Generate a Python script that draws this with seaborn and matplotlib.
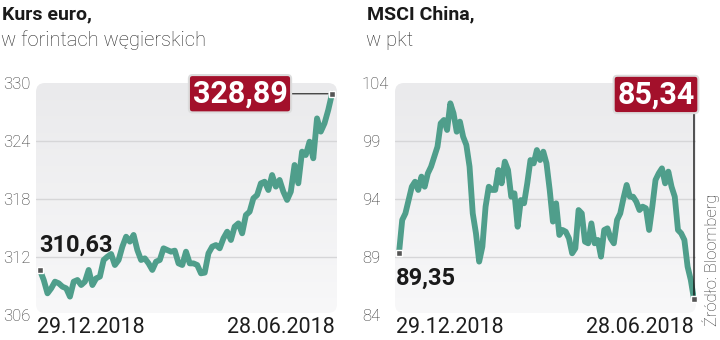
import numpy as np
import pandas as pd
import matplotlib
matplotlib.use("Agg")
import matplotlib.pyplot as plt
import seaborn as sns
from matplotlib.patches import FancyBboxPatch

# ---------------- data ----------------
eur_title = "Kurs euro,"
eur_subtitle = "w forintach węgierskich"
eur_values = [310.63, 309.62, 308.24, 308.76, 309.45, 309.28, 308.93, 308.76, 307.90, 309.45,
              309.62, 309.10, 309.45, 310.66, 309.10, 309.79, 309.97, 311.69, 312.03, 312.31,
              311.17, 311.69, 313.07, 314.10, 313.59, 314.28, 312.72, 311.69, 311.86, 311.34,
              310.66, 311.52, 311.69, 312.90, 312.72, 312.55, 312.66, 311.34, 311.17, 312.55,
              311.34, 311.34, 311.17, 310.31, 310.38, 312.38, 313.07, 313.24, 312.90, 313.93,
              314.62, 313.76, 315.14, 315.48, 314.45, 316.34, 316.69, 318.07, 318.41, 319.62,
              319.79, 318.93, 320.48, 319.28, 319.97, 318.76, 317.90, 318.76, 321.52, 319.62,
              322.90, 322.55, 323.93, 322.21, 326.34, 324.97, 325.83, 327.21, 328.89]
eur_ticks = [306, 312, 318, 324, 330]

msci_title = "MSCI China,"
msci_subtitle = "w pkt"
msci_values = [89.35, 92.19, 92.76, 93.91, 95.06, 95.49, 94.78, 95.93, 95.06, 96.21,
               96.79, 97.65, 98.51, 100.52, 100.81, 99.95, 102.25, 101.39, 99.80, 100.67,
               99.37, 98.66, 96.79, 92.76, 91.04, 88.60, 89.89, 93.34, 95.06, 94.78,
               94.78, 96.50, 95.35, 97.22, 96.50, 94.20, 94.49, 91.61, 93.91, 93.63,
               95.35, 97.36, 97.07, 98.22, 97.36, 98.08, 97.07, 94.78, 92.05, 93.63,
               90.90, 91.33, 91.18, 90.61, 89.32, 89.75, 93.05, 92.76, 90.32, 90.18,
               91.90, 90.18, 90.47, 89.03, 91.33, 91.47, 90.61, 90.18, 92.19, 92.76,
               94.06, 95.21, 94.20, 94.20, 93.77, 93.05, 93.34, 93.20, 91.33, 93.34,
               95.64, 96.21, 96.64, 95.35, 96.36, 95.06, 94.20, 91.33, 91.04, 90.47,
               88.17, 87.02, 85.34]
msci_ticks = [84, 89, 94, 99, 104]

date_labels = ["29.12.2018", "28.06.2018"]
source_text = "Źródło: Bloomberg"

# ---------------- style ----------------
sns.set_style("white")
plt.rcParams["font.family"] = ["Roboto", "DejaVu Sans"]

LINE = "#4f9e8b"
RED = "#a3102b"
W, H = 720, 340

fig = plt.figure(figsize=(7.2, 3.4), dpi=100)
fig.patch.set_facecolor("white")


def fmt(v):
    return f"{v:.2f}".replace(".", ",")


def panel(px_left, px_right, data_l, data_r, values, ticks, title, subtitle,
          title_x, box_mode):
    top, bottom = 83, 315
    ax = fig.add_axes([px_left / W, 1 - bottom / H, (px_right - px_left) / W,
                       (bottom - top) / H])
    ax.set_facecolor("none")
    for s in ax.spines.values():
        s.set_visible(False)
    n = len(values)
    span = n - 1
    dw = data_r - data_l
    xl = -(data_l - px_left) / dw * span
    xr = span + (px_right - data_r) / dw * span

    # background rounded box with vertical gradient
    wpx, hpx = px_right - px_left, bottom - 2 - top
    box = FancyBboxPatch((0, 2 / (bottom - top)), 1, hpx / (bottom - top),
                         boxstyle=f"round,pad=0,rounding_size={9 / wpx}",
                         mutation_aspect=wpx / (bottom - top), transform=ax.transAxes,
                         facecolor="none", edgecolor="none")
    ax.add_patch(box)
    grad = np.linspace(0, 1, 256).reshape(-1, 1)
    cmap = matplotlib.colors.LinearSegmentedColormap.from_list("bg", ["#f8f8f9", "#eaeaec"])
    im = ax.imshow(grad, extent=(0, 1, 1, 0), transform=ax.transAxes, aspect="auto",
                   cmap=cmap, zorder=0)
    im.set_clip_path(box)

    df = pd.DataFrame({"t": np.arange(n), "v": values})
    sns.lineplot(data=df, x="t", y="v", ax=ax, color=LINE, linewidth=4.2,
                 solid_joinstyle="round", solid_capstyle="round", zorder=3)
    ax.set_xlim(xl, xr)
    ax.set_ylim(ticks[0], ticks[-1])
    for t in ticks[1:-1]:
        ax.axhline(t, color="#d6d6d8", lw=1.0, zorder=1)

    ax.set_yticks(ticks)
    ax.set_yticklabels([str(t) for t in ticks], ha="left", fontsize=12,
                       fontweight="light", color="#333333")
    ax.tick_params(axis="y", length=0, pad=33 * 0.72)
    ax.set_xticks([])
    ax.set_xlabel("")
    ax.set_ylabel("")

    ax.annotate(date_labels[0], xy=(0, 0), xycoords="axes fraction", xytext=(1, -18),
                textcoords="offset pixels", ha="left", va="baseline", fontsize=15.5,
                color="#1e1e1e")
    ax.annotate(date_labels[1], xy=(1, 0), xycoords="axes fraction", xytext=(-2, -18),
                textcoords="offset pixels", ha="right", va="baseline", fontsize=15.5,
                color="#1e1e1e")

    # end markers
    for i in (0, n - 1):
        ax.plot([i], [values[i]], marker="s", ms=4.5, mfc="#555555", mec="white",
                mew=1.0, zorder=6, clip_on=False)

    # titles
    fig.text(title_x / W, 1 - 19 / H, title, fontsize=14, fontweight="bold",
             color="#1a1a1a", ha="left", va="baseline")
    fig.text((title_x - 1) / W, 1 - 46 / H, subtitle, fontsize=14.5, fontweight="light",
             color="#2a2a2a", ha="left", va="baseline")

    bbox = dict(boxstyle="round,pad=0.12,rounding_size=0.12", facecolor=RED,
                edgecolor="#dcdcdc", linewidth=1.5)
    if box_mode == "left":
        ax.annotate(fmt(values[0]), xy=(0, values[0]), xytext=(-1, 18),
                    textcoords="offset pixels", ha="left", va="baseline",
                    fontsize=17, fontweight="bold", color="#1a1a1a", zorder=7)
        ax.annotate(fmt(values[-1]), xy=(n - 1, values[-1]), xytext=(-92, 0),
                    textcoords="offset pixels", ha="center", va="center",
                    fontsize=22, fontweight="bold", color="white", bbox=bbox,
                    annotation_clip=False, zorder=8,
                    arrowprops=dict(arrowstyle="-", color="#444444", lw=1,
                                    shrinkA=0, shrinkB=3))
    else:
        ax.annotate(fmt(values[0]), xy=(0, values[0]), xytext=(-3, -32),
                    textcoords="offset pixels", ha="left", va="baseline",
                    fontsize=17, fontweight="bold", color="#1a1a1a", zorder=7)
        ax.annotate("", xy=(n - 1, values[-1]), xytext=(0, 188),
                    textcoords="offset pixels", annotation_clip=False,
                    arrowprops=dict(arrowstyle="-", color="#111111", lw=1,
                                    shrinkA=0, shrinkB=3))
        ax.annotate(fmt(values[-1]), xy=(n - 1, values[-1]), xytext=(-38, 205),
                    textcoords="offset pixels", ha="center", va="center",
                    fontsize=22, fontweight="bold", color="white", bbox=bbox,
                    annotation_clip=False, zorder=8)
    return ax


panel(36, 337, 40, 332, eur_values, eur_ticks, eur_title, eur_subtitle, 2, "left")
panel(395, 696, 399, 694, msci_values, msci_ticks, msci_title, msci_subtitle, 367, "right")

fig.text(711 / W, 1 - 326 / H, source_text, rotation=90, ha="center", va="bottom",
         fontsize=12, fontweight="light", color="#333333")

fig.savefig("out.png", dpi=100)
